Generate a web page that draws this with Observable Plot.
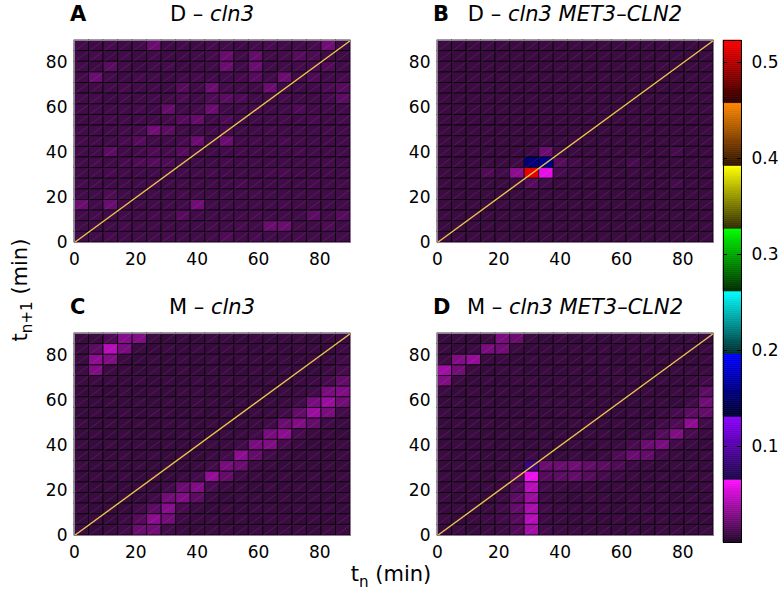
<!DOCTYPE html>
<html><head><meta charset="utf-8">
<script src="https://cdn.jsdelivr.net/npm/d3@7"></script>
<script src="https://cdn.jsdelivr.net/npm/@observablehq/plot@0.6"></script>
<style>
body{margin:0;background:#fff;}
#fig{position:relative;width:778px;height:597px;overflow:hidden;font-family:"DejaVu Sans",sans-serif;color:#000;background:#fff;}
.abs{position:absolute;white-space:nowrap;line-height:1;}
.abs sub{font-size:0.72em;vertical-align:-0.38em;line-height:0;}
.t{font-size:21px;transform:translateX(-50%);}
.L{font-size:21px;font-weight:bold;}
</style></head><body><div id="fig"></div>
<script>
// ---------- data (values in units of 0.001) ----------
const tnTicks = [0, 20, 40, 60, 80];
const tn1Ticks = [0, 20, 40, 60, 80];
const cbarTicks = [0.1, 0.2, 0.3, 0.4, 0.5];
const axisMax = 90;
const nBins = 19;
const colorMax = 0.523;
const diagonal = [0, 90];

// rows listed from top (t_{n+1} high) to bottom; columns t_n low -> high
const panelA = [
[10,9,11,9,10,22,9,10,9,11,10,9,10,12,10,10,11,24,9],
[9,11,9,10,9,10,9,9,10,11,21,10,20,10,11,16,13,10,9],
[10,9,17,10,9,10,11,9,10,10,22,10,22,10,10,11,12,15,10],
[10,22,10,9,11,10,9,10,11,10,10,11,16,10,22,10,14,10,11],
[9,10,10,11,10,10,9,16,10,22,11,10,10,22,10,10,10,13,16],
[10,11,9,10,10,11,10,13,10,14,17,14,10,10,11,10,10,12,18],
[10,10,10,10,11,10,20,10,11,22,10,10,11,10,10,14,10,10,10],
[9,10,11,10,10,10,11,16,20,10,14,10,10,10,11,10,12,10,11],
[10,10,10,11,12,24,18,10,10,11,12,10,10,11,10,10,10,11,10],
[11,10,10,12,16,10,10,12,22,10,22,10,11,10,12,10,10,10,10],
[10,10,18,10,11,14,12,16,10,10,10,11,10,10,10,11,10,10,10],
[10,11,10,12,14,16,14,10,10,10,11,10,10,10,10,10,10,11,10],
[10,10,12,10,10,10,11,10,10,11,10,10,10,11,12,10,10,10,10],
[11,10,10,10,10,11,10,10,10,10,10,12,10,10,10,10,11,10,10],
[10,10,14,10,10,10,10,11,10,10,10,10,11,10,10,10,10,10,11],
[22,10,22,10,10,10,10,10,24,10,10,10,10,10,11,10,10,10,10],
[10,11,10,10,10,11,10,16,10,10,10,10,11,10,10,10,18,10,16],
[10,10,10,11,10,10,10,10,10,11,10,12,10,22,22,10,10,14,10],
[10,10,11,10,10,10,11,10,10,10,14,10,12,10,10,11,10,10,10]
];
const panelB = [
[8,8,8,8,8,8,8,8,8,8,8,8,8,8,8,8,8,8,8],
[8,8,8,8,8,8,8,8,8,8,8,8,8,8,8,8,8,8,8],
[8,8,8,8,8,8,8,8,8,8,8,8,8,8,8,9,8,8,8],
[8,8,8,8,8,8,8,8,8,8,8,8,8,8,8,8,8,8,8],
[8,8,8,8,8,8,8,8,8,8,8,8,8,8,8,8,8,8,8],
[8,8,8,8,8,8,8,8,8,8,8,8,8,8,8,8,8,8,8],
[8,8,8,8,8,8,8,8,8,8,8,8,8,8,8,8,8,8,8],
[8,8,8,8,8,8,8,8,8,8,8,8,8,8,8,8,8,8,8],
[8,8,8,8,8,8,8,8,8,8,8,8,8,8,8,8,8,8,8],
[8,8,8,8,8,8,8,8,8,9,8,8,8,8,8,8,8,8,8],
[8,8,8,8,8,8,9,22,9,8,8,8,8,8,8,8,11,8,8],
[8,8,8,8,8,9,155,162,16,11,9,8,8,12,8,8,8,8,8],
[8,8,8,14,10,32,515,58,12,9,8,8,8,8,8,8,8,8,8],
[8,8,8,8,8,9,16,10,8,8,8,8,8,8,8,8,11,8,8],
[8,8,8,8,8,8,8,8,8,8,8,8,8,8,8,8,8,8,8],
[8,8,8,8,8,8,8,8,8,8,8,8,8,8,8,8,8,8,8],
[8,8,8,8,8,8,8,8,8,8,8,8,8,8,8,8,8,8,8],
[8,8,8,8,8,8,8,8,8,8,8,8,8,8,8,8,8,8,8],
[8,8,8,8,8,8,8,8,8,8,8,8,8,8,8,8,8,8,8]
];
const panelC = [
[8,8,14,30,28,8,7,8,7,8,8,7,8,7,8,8,7,8,8],
[8,18,44,26,8,7,8,7,8,7,8,8,7,8,7,8,8,7,9],
[8,32,28,8,7,8,7,8,7,8,7,8,8,7,8,7,8,8,10],
[9,28,9,8,7,8,7,8,7,8,8,7,8,7,8,8,7,9,12],
[8,8,8,7,8,7,8,7,8,7,8,8,7,8,7,8,9,12,20],
[7,8,7,8,7,8,7,8,8,7,8,7,8,7,8,8,10,26,28],
[8,7,8,7,8,7,8,7,8,8,7,8,7,8,8,10,26,36,24],
[7,8,7,8,7,8,8,7,8,7,8,7,8,8,10,20,36,26,10],
[8,7,8,7,8,7,8,8,7,8,7,8,8,10,22,28,20,10,8],
[7,8,7,8,7,8,7,8,8,7,8,8,10,26,32,12,8,8,7],
[8,7,8,7,8,7,8,7,8,8,8,10,26,28,12,8,7,8,8],
[7,8,7,8,7,8,7,8,7,8,10,32,20,10,8,7,8,7,8],
[8,7,8,7,8,7,8,7,8,10,26,22,9,8,7,8,7,8,7],
[7,8,7,8,7,8,7,8,10,34,20,9,8,7,8,7,8,7,8],
[8,7,8,7,8,7,10,22,28,12,8,8,7,8,7,8,7,8,7],
[7,8,7,8,7,10,24,28,18,8,7,8,8,7,8,7,8,7,8],
[8,7,8,7,10,18,30,12,8,7,8,7,8,8,7,8,7,8,7],
[7,8,7,9,16,32,24,9,8,8,7,8,7,8,8,7,8,7,8],
[8,7,8,10,22,24,10,8,7,8,8,7,8,7,8,8,7,8,8]
];
const panelD = [
[7,8,7,8,26,22,8,7,8,7,8,7,8,8,7,8,7,8,8],
[8,7,8,26,24,8,7,8,7,8,7,8,7,8,8,7,8,7,8],
[8,28,34,8,8,7,8,7,8,7,8,8,7,8,7,8,8,7,8],
[38,24,8,7,8,8,7,8,7,8,7,8,8,7,8,7,8,8,8],
[28,8,7,8,7,8,8,7,8,7,8,7,8,8,7,8,7,8,10],
[8,7,8,7,8,7,8,8,7,8,7,8,7,8,8,7,8,8,18],
[7,8,7,8,7,8,7,8,8,7,8,7,8,7,8,8,7,10,24],
[8,7,8,7,8,7,8,7,8,8,7,8,7,8,7,8,12,18,20],
[7,8,7,8,7,8,7,8,7,8,8,7,8,7,8,10,14,32,10],
[8,7,8,7,8,7,8,7,8,7,8,8,7,8,10,16,28,12,8],
[7,8,7,8,7,8,7,8,7,8,7,8,8,12,22,26,10,8,7],
[8,7,8,7,8,7,9,8,7,8,7,8,14,22,20,10,8,7,8],
[7,8,7,8,7,9,85,22,22,24,20,18,14,9,8,7,8,8,7],
[8,7,8,7,9,16,60,16,18,20,16,12,9,8,7,8,7,8,8],
[7,8,7,8,8,14,44,10,9,8,8,7,8,7,8,7,8,7,8],
[8,7,8,7,9,18,36,9,8,7,8,8,7,8,7,8,7,8,7],
[7,8,7,8,10,20,40,10,8,8,7,8,7,8,8,7,8,7,8],
[8,7,8,9,10,16,44,9,8,7,8,7,8,7,8,8,7,8,7],
[7,8,7,8,9,15,38,10,8,8,7,8,7,8,7,8,8,7,8]
];

// ---------- colormap (8 gradient segments, dark -> bright) ----------
const segDark   = ["#200a28","#1a0846","#00002c","#002a2c","#002a00","#2c2a00","#2c1200","#2c0000"];
const segBright = ["#ff10ff","#8c00ff","#0000ff","#00ffff","#00ff00","#ffff00","#ff8800","#ff0000"];
function cmap(t) {
  const s = Math.max(0, Math.min(7, Math.floor(t * 8)));
  const u = Math.max(0, Math.min(1, t * 8 - s));
  return d3.interpolateRgb(segDark[s], segBright[s])(u);
}
const colorOpts = {type: "linear", domain: [0, colorMax], interpolate: cmap, clamp: true};

// ---------- layout ----------
const PW = 276, PH = 202, ML = 50, MR = 12, MT = 40, MB = 34;
const fig = document.getElementById("fig");

function toCells(m) {
  const bw = axisMax / nBins;
  const out = [];
  m.forEach((row, r) => row.forEach((v, c) => {
    const j = nBins - 1 - r;
    out.push({x1: c * bw, x2: (c + 1) * bw, y1: j * bw, y2: (j + 1) * bw, v: v / 1000});
  }));
  return out;
}

function panel(matrix) {
  const cells = toCells(matrix);
  return Plot.plot({
    width: ML + PW + MR, height: MT + PH + MB,
    marginLeft: ML, marginRight: MR, marginTop: MT, marginBottom: MB,
    style: {fontFamily: "DejaVu Sans", fontSize: "17px", background: "transparent", overflow: "visible", color: "#000"},
    x: {domain: [0, axisMax], ticks: tnTicks, tickSize: 0, tickPadding: 10, label: null},
    y: {domain: [0, axisMax], ticks: tn1Ticks, tickSize: 0, tickPadding: 7, label: null},
    color: colorOpts,
    marks: [
      Plot.rect(cells, {x1: "x1", x2: "x2", y1: "y1", y2: "y2", fill: "v", stroke: "#000", strokeWidth: 0.9, strokeOpacity: 0.85}),
      Plot.link(cells, {x1: "x1", y1: "y1", x2: "x2", y2: "y2", stroke: "#fff", strokeOpacity: 0.12, strokeWidth: 0.7}),
      Plot.line(diagonal, {x: d => d, y: d => d, stroke: "#e8c34a", strokeWidth: 1.4}),
      Plot.frame({stroke: "#8c7c92", strokeWidth: 1})
    ]
  });
}

function place(el, left, top) {
  el.style.position = "absolute";
  el.style.left = left + "px";
  el.style.top = top + "px";
  fig.appendChild(el);
}

const panels = [
  {m: panelA, left: 74, top: 40, letter: "A", head: "D – ", strain: "cln3"},
  {m: panelB, left: 437, top: 40, letter: "B", head: "D – ", strain: "cln3 MET3–CLN2"},
  {m: panelC, left: 74, top: 333, letter: "C", head: "M – ", strain: "cln3"},
  {m: panelD, left: 437, top: 333, letter: "D", head: "M – ", strain: "cln3 MET3–CLN2"}
];

for (const p of panels) {
  place(panel(p.m), p.left - ML, p.top - MT);
  const base = p.top - 18 - 17.8;
  const L = document.createElement("div");
  L.className = "abs L";
  L.textContent = p.letter;
  place(L, p.left - 4, base);
  const T = document.createElement("div");
  T.className = "abs t";
  T.innerHTML = p.head + "<i>" + p.strain + "</i>";
  place(T, p.left + PW / 2, base);
}

// ---------- colorbar ----------
const nSlices = 8 * 32;
const cbSlices = d3.range(nSlices).map(i => ({y1: i * colorMax / nSlices, y2: (i + 1) * colorMax / nSlices, v: (i + 0.5) * colorMax / nSlices}));
const cbTop = 40, cbBottom = 542, cbW = 18;
const cbar = Plot.plot({
  width: cbW + 50, height: (cbBottom - cbTop) + 20,
  marginLeft: 0, marginRight: 50, marginTop: 10, marginBottom: 10,
  style: {fontFamily: "DejaVu Sans", fontSize: "17px", background: "transparent", overflow: "visible", color: "#000"},
  y: {domain: [0, colorMax], ticks: cbarTicks, tickFormat: d3.format(".1f"), tickSize: 0, tickPadding: 10, label: null, axis: "right"},
  color: colorOpts,
  marks: [
    Plot.rect(cbSlices, {y1: "y1", y2: "y2", fill: "v", stroke: "v", strokeWidth: 0.6}),
    Plot.tickY(cbarTicks, {y: d => d, stroke: "#000", strokeWidth: 1, insetRight: cbW - 4}),
    Plot.tickY(cbarTicks, {y: d => d, stroke: "#000", strokeWidth: 1, insetLeft: cbW - 4}),
    Plot.frame({stroke: "#000", strokeWidth: 1})
  ]
});
place(cbar, 723, cbTop - 10);

// ---------- axis titles ----------
const yl = document.createElement("div");
yl.className = "abs";
yl.style.fontSize = "21px";
yl.style.transform = "translate(-50%,-50%) rotate(-90deg)";
yl.innerHTML = "t<sub>n+1</sub> (min)";
place(yl, 20, 290);

const xl = document.createElement("div");
xl.className = "abs";
xl.style.fontSize = "21px";
xl.style.transform = "translateX(-50%)";
xl.innerHTML = "t<sub>n</sub> (min)";
place(xl, 391, 564);
</script></body></html>
